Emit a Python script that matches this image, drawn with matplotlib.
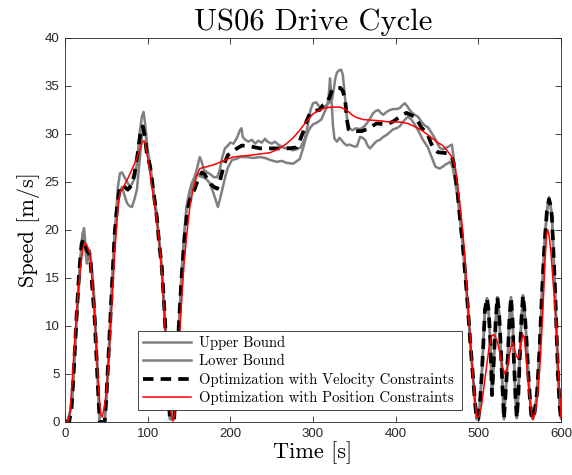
import matplotlib
matplotlib.use("Agg")
import matplotlib.pyplot as plt
from matplotlib.font_manager import FontProperties

# ---------------- data ----------------
t_upper = [0, 4, 6, 8, 10, 12, 15, 18, 21, 23, 24.5, 26.5, 28, 30, 32, 35, 37, 39, 41, 42, 48, 50, 53, 57, 60, 62, 64,
           66.5, 69, 72.6, 76, 78.6, 81, 84.7, 87, 90.7, 93, 95, 97, 100, 103, 107, 111, 114, 117, 119, 121, 123, 125,
           127, 132, 133.5, 135.5, 138, 141, 144, 147, 150, 153, 157, 160, 163, 165, 168, 172, 176, 180, 184, 187, 190,
           193.5, 197, 200, 204, 208, 211.7, 213.5, 215, 218, 222, 226, 230, 234, 238, 242, 245, 250, 254, 258, 262,
           266, 270, 275, 280, 285, 290, 294, 297, 300, 304, 308, 312, 316, 320, 323, 325, 327, 329, 331, 334, 336,
           338, 340, 342, 345, 348, 352, 357, 362, 365, 369, 373, 376, 379, 382, 385, 389, 393, 397, 401, 405, 408,
           411, 414, 417, 420, 423, 427, 431, 435, 439, 442, 445, 449, 453, 457, 460, 464, 468, 470, 472, 475, 478,
           481, 484.5, 487.5, 490.5, 493.5, 496, 498, 500, 502, 504, 506, 508, 510.5, 512.5, 514.5, 516.5, 518.5, 521,
           523, 525, 527, 529, 531, 533, 535.5, 537.5, 539.5, 541.5, 543, 545, 546.5, 548.5, 550, 552, 554, 556,
           558.5, 560.5, 562.5, 564, 566, 568, 571, 574, 577, 580, 583, 585.5, 587.5, 589, 591, 593, 595, 596.5,
           598.5, 600]
v_upper = [0, 0.3, 1.0, 1.8, 4, 7.5, 12, 16.2, 19.5, 20.2, 18.8, 16.8, 17.3, 17.9, 16.5, 13.4, 9.5, 5.7, 1.5, 0, 0, 2.5,
           7.5, 14.5, 19.5, 22, 24.5, 25.9, 26, 25.4, 24.9, 24.5, 24.8, 25.5, 27, 30.4, 31.8, 32.3, 31, 28.3, 26.8,
           24.2, 21.6, 18.8, 16.3, 13.5, 10.5, 6.5, 3, 0.3, 0.3, 3, 6.5, 10.5, 15.5, 19.5, 22.5, 23.8, 24.8, 25.6, 26.5,
           27.6, 27.2, 26.3, 26, 25.8, 25.5, 25.5, 26.2, 27.5, 28.5, 28.8, 29.1, 29.0, 29.6, 30.4, 30.6, 29.7, 29.4,
           29.2, 29.4, 29.0, 29.3, 29.1, 29.5, 29.2, 29.0, 29.2, 28.9, 28.7, 28.5, 28.6, 28.3, 28.4, 28.6, 29.5, 31.0,
           32.5, 33.2, 33.3, 32.8, 32.7, 33.0, 33.3, 33.6, 34.6, 35.8, 36.4, 36.6, 36.7, 36.2, 34.5, 32.5, 31.0, 30.5,
           30.4, 30.6, 30.5, 30.8, 31.1, 31.6, 32.2, 32.4, 32.5, 32.2, 32.0, 32.3, 32.5, 32.6, 32.6, 32.7, 33.0, 33.2,
           32.9, 32.5, 32.2, 32.0, 31.8, 31.3, 30.9, 30.7, 30.3, 29.9, 29.3, 28.6, 28.4, 28.5, 28.7, 28.9, 27.6, 26.0,
           24.2, 21.3, 18.6, 15, 11.7, 8, 4.7, 2, 0.3, 0.3, 2, 4.7, 8, 11.7, 12.9, 11.5, 8.5, 2.8, 6, 10.5, 13, 11.5, 8,
           4, 0.3, 3, 6.5, 10.5, 13, 10.5, 6.5, 2.5, 0.4, 3, 6.5, 10.5, 13.2, 11.5, 8.2, 5, 2.3, 0.8, 0.3, 1, 3, 7.5,
           13.4, 18.5, 22, 23.4, 22.5, 21.4, 17.5, 13.4, 8.5, 4.7, 1.5, 0.4]

t_lower = [0, 4, 6, 8, 10, 12, 15, 18, 21, 23, 24.5, 26.5, 28, 30, 32, 35, 37, 39, 41, 42, 48, 50, 53, 57, 60, 63, 66,
           69, 72, 75, 78, 81, 84, 87, 90, 93, 95, 97, 100, 103, 107, 111, 114, 117, 119, 121, 123, 125, 127, 132,
           133.5, 135.5, 138, 141, 144, 147, 150, 153, 156, 159, 163, 167, 171, 175, 179, 182, 185, 188, 191, 194,
           197, 202, 207, 212, 220, 228, 236, 242, 248, 256, 262, 268, 276, 284, 288, 291, 294, 297, 300, 305, 310,
           314, 317, 319, 320.6, 322, 324, 326, 329, 332, 335, 338, 341, 344, 347, 350, 353, 357, 360, 363, 366, 369,
           372, 375, 378, 381, 385, 389, 393, 397, 401, 405, 410, 415, 419, 423, 427, 433, 439, 444, 448, 453, 457,
           460, 466, 469, 472, 475, 478, 481, 484.5, 487.5, 490.5, 493.5, 496, 498, 500, 502, 504, 506, 508, 510.5,
           512.5, 514.5, 516.5, 518.5, 521, 523, 525, 527, 529, 531, 533, 535.5, 537.5, 539.5, 541.5, 543, 545, 546.5,
           548.5, 550, 552, 554, 556, 558.5, 560.5, 562.5, 564, 566, 568, 571, 574, 577, 580, 583, 585.5, 587.5, 589,
           591, 593, 595, 596.5, 598.5, 600]
v_lower = [0, 0.3, 1.0, 1.8, 4, 7.5, 12, 16.2, 19.3, 19.6, 18.0, 16.5, 17.0, 17.6, 16.3, 13.2, 9.5, 5.7, 1.5, 0, 0,
           2.5, 7.5, 14.5, 19.3, 22.0, 23.8, 24.5, 23.6, 22.8, 22.5, 22.4, 23.2, 24.2, 27.0, 29.7, 30.8, 30.3, 28.0,
           26.4, 24.0, 21.4, 18.6, 16.1, 13.5, 10.5, 6.5, 3, 0.3, 0.3, 3, 6.5, 10.5, 15.3, 19.2, 22.0, 23.2, 24.2, 25.0,
           25.9, 25.6, 25.5, 25.3, 24.9, 24.0, 23.2, 22.4, 23.4, 24.5, 25.6, 26.5, 27.3, 27.4, 27.6, 27.6, 27.5, 27.6,
           27.5, 27.3, 27.1, 27.2, 27.0, 26.9, 27.4, 28.5, 29.5, 30.2, 30.7, 31.0, 31.2, 31.5, 32.3, 32.8, 34.0, 35.8,
           34.2, 31.0, 29.5, 29.2, 29.6, 29.3, 29.0, 28.8, 28.9, 28.8, 28.7, 28.7, 29.7, 29.6, 29.4, 28.8, 28.5, 28.8,
           29.1, 29.3, 29.4, 29.7, 29.9, 30.2, 30.5, 30.6, 30.8, 31.4, 31.8, 31.5, 31.0, 30.4, 29.4, 28.6, 27.5, 26.6,
           26.4, 26.6, 26.8, 27.1, 26.5, 25.0, 23.3, 21.0, 18.6, 15, 11.7, 8, 4.7, 2, 0.3, 0.3, 2, 4.7, 8, 11.7, 12.9,
           11.5, 8.5, 2.8, 6, 10.5, 13, 11.5, 8, 4, 0.3, 3, 6.5, 10.5, 13, 10.5, 6.5, 2.5, 0.4, 3, 6.5, 10.5, 13.2,
           11.5, 8.2, 5, 2.3, 0.8, 0.3, 1, 3, 7.5, 13.4, 18.5, 22, 23.4, 22.5, 21.4, 17.5, 13.4, 8.5, 4.7, 1.5, 0.4]

t_vel = [0, 5, 8, 11, 14, 17, 20, 22, 24, 27, 29, 31, 33, 36, 39, 41, 42, 48, 50, 53, 57, 60, 63, 66, 69, 72, 76, 80,
         84, 88, 91, 94, 96, 99, 103, 107, 111, 114, 117, 119, 121, 123, 125, 127, 132, 133.5, 135.5, 138, 141, 145,
         148, 151, 154, 157, 161, 165.7, 169, 172, 176, 180, 184, 187, 190, 194, 197, 202, 208, 214, 225, 236, 256,
         270, 280, 284, 288, 292, 296, 300, 308, 312, 316, 320, 323, 328, 333, 336, 339, 341, 343, 347, 359, 365, 369,
         377, 389, 397, 405, 413, 418, 423, 427, 431, 435, 439, 442, 445, 451, 462, 468, 470, 472, 475, 478, 481,
         484.5, 487.5, 490.5, 493.5, 496, 498, 500, 502, 504, 506, 508, 510.5, 512.5, 514.5, 516.5, 518.5, 521, 523,
         525, 527, 529, 531, 533, 535.5, 537.5, 539.5, 541.5, 543, 545, 546.5, 548.5, 550, 552, 554, 556, 558.5,
         560.5, 562.5, 564, 566, 568, 571, 574, 577, 580, 583, 585.5, 587.5, 589, 591, 593, 595, 596.5, 598.5, 600]
v_vel = [0, 0, 1.5, 6, 11, 15.5, 18.5, 19, 18.5, 17.8, 17.6, 16.5, 14, 10.6, 5, 1.6, 0, 0, 2.5, 7.5, 14.5, 19.5, 22.5,
         24.3, 24.7, 24.5, 24.2, 24.6, 25.8, 28, 30, 30.8, 30, 28, 26.6, 24, 21.4, 18.5, 16.2, 13.5, 10.5, 6.5, 3,
         0.3, 0.3, 3, 6.5, 10.5, 15, 19.5, 22, 23.1, 23.8, 24.3, 25.3, 26, 25.8, 25.3, 24.8, 24.5, 24.3, 25, 26,
         27.2, 27.8, 28.1, 28.5, 28.8, 28.7, 28.5, 28.5, 28.5, 28.6, 29.3, 30.2, 31.3, 32.1, 32.4, 32.5, 33, 33.2,
         33.8, 34.6, 34.8, 34.8, 34.5, 33.5, 31.5, 30.5, 30.3, 30.3, 30.5, 30.7, 31.1, 31, 31.3, 31.8, 32.2, 32, 31.8,
         31.3, 30.7, 30.3, 29.9, 29.2, 28.6, 28.1, 28, 27.6, 27, 25.9, 23.8, 21, 18.6, 15, 11.7, 8, 4.7, 2, 0.3, 0.3,
         2, 4.7, 8, 11.7, 12.9, 11.5, 8.5, 2.8, 6, 10.5, 13, 11.5, 8, 4, 0.3, 3, 6.5, 10.5, 13, 10.5, 6.5, 2.5, 0.4,
         3, 6.5, 10.5, 13.2, 11.5, 8.2, 5, 2.3, 0.8, 0.3, 1, 3, 7.5, 13.4, 18.5, 22, 23.2, 22.5, 21.4, 17.5, 13.4, 8.5,
         4.7, 1.5, 0.4]

t_pos = [0, 4, 6, 8.5, 11, 14, 17, 20, 22, 24, 26, 28, 30, 32, 34, 36, 38, 40, 42, 43.5, 45, 47, 49, 51, 54, 57, 60,
         63, 65, 67, 69, 75, 81, 87, 91, 93, 95.5, 97, 99, 102, 105, 108, 111, 114, 117, 119, 121, 123, 125, 127,
         129, 130.5, 132, 134, 136, 138, 141, 144, 147.5, 151, 154, 157, 160, 163, 180, 203, 225, 248, 260, 268, 276,
         284, 292, 300, 308, 316, 324, 333, 338, 342, 347, 353, 361, 377, 393, 405, 415, 427, 433, 439, 445, 451,
         457, 462, 468, 472, 475, 478, 481, 484, 488, 492, 495, 498, 501, 504, 507, 510, 513, 516, 518, 520, 523,
         526, 529, 532, 535, 538, 541, 543, 545.5, 548, 550, 552, 554, 555.5, 557, 559, 561, 563, 565, 566, 569, 572,
         575, 578, 580.5, 582.5, 584, 585.5, 588, 590.5, 593, 595.5, 598, 600]
v_pos = [0, 0.1, 1, 4, 7.5, 11.5, 14.5, 17, 18.2, 18.6, 18.5, 18.1, 17.5, 15.5, 13.5, 11, 7.5, 4.5, 2, 0.8, 0.5, 1.3,
         2.5, 4, 8, 12.7, 17.5, 21, 23.1, 24, 24.2, 25.2, 26.3, 27.5, 28.5, 29.1, 29.3, 29, 28, 26.5, 24.5, 22.8, 21,
         18.8, 15.5, 12.8, 9.8, 6.8, 4, 1.8, 0.5, 0.1, 0.6, 2.5, 5, 8, 12.5, 16.5, 19.7, 22.4, 23.8, 24.9, 25.8, 26.4,
         26.8, 27.6, 27.8, 28.05, 28.5, 29, 29.6, 30.4, 31.3, 32.1, 32.5, 32.75, 32.8, 32.8, 32.6, 32.4, 32, 31.7,
         31.5, 31.4, 31.25, 31.25, 31.1, 30.6, 30.3, 29.9, 29.5, 29.1, 28.8, 28.3, 27.6, 26.6, 24.5, 22.5, 20, 16.9,
         11.5, 6.5, 3, 0.5, 0.6, 1.8, 3.8, 5.8, 7.8, 8.9, 9.1, 9.0, 8.4, 7.2, 5.8, 5.0, 5.6, 7.2, 8.3, 8.0, 7.0, 6.6,
         7.2, 8.5, 9.1, 8.8, 7.5, 5.5, 3.5, 1.8, 0.6, 0.3, 1, 3, 6.5, 11.5, 16.5, 19.5, 20, 19.5, 17.5, 14.5, 11.7, 8,
         3.5, 0.5]

x_ticks = [0, 100, 200, 300, 400, 500, 600]
y_ticks = [0, 5, 10, 15, 20, 25, 30, 35, 40]
labels = ["Upper Bound", "Lower Bound",
          "Optimization with Velocity Constraints",
          "Optimization with Position Constraints"]
title = "US06 Drive Cycle"
xlabel = "Time [s]"
ylabel = "Speed [m/s]"

# ---------------- figure ----------------
tickfont = FontProperties(family="Liberation Sans", size=9.5)
dark = "#262626"

fig = plt.figure(figsize=(5.72, 4.75), dpi=100)
ax = fig.add_axes([65 / 572, 1 - 422 / 475, (561 - 65) / 572, (422 - 38) / 475])

gray = "#808080"
ax.plot(t_upper, v_upper, color=gray, lw=1.8, label=labels[0])
ax.plot(t_lower, v_lower, color=gray, lw=1.8, label=labels[1])
ax.plot(t_vel, v_vel, color="black", lw=2.7, dashes=(2.8, 1.9), label=labels[2])
ax.plot(t_pos, v_pos, color="red", lw=1.1, label=labels[3])

ax.set_xlim(0, 600)
ax.set_ylim(0, 40)
ax.set_xticks(x_ticks)
ax.set_yticks(y_ticks)
ax.tick_params(direction="in", length=4, width=0.6, top=True, right=True, colors=dark, pad=4)
for lab in ax.get_xticklabels() + ax.get_yticklabels():
    lab.set_fontproperties(tickfont)
    lab.set_color(dark)
for sp in ax.spines.values():
    sp.set_color(dark)
    sp.set_linewidth(0.6)

ax.set_title(title, fontproperties=FontProperties(family="cmr10", size=22), color="black", pad=6)
ax.set_xlabel(xlabel, fontproperties=FontProperties(family="cmr10", size=16), labelpad=1)
ax.set_ylabel(ylabel, fontproperties=FontProperties(family="cmr10", size=16), labelpad=3)

leg = ax.legend(prop=FontProperties(family="cmr10", size=10.5), loc="lower left",
                bbox_to_anchor=(0.147, 0.031, 0.653, 0.209), mode="expand",
                handlelength=3.3, handletextpad=0.55, labelspacing=0.3, borderpad=0.35,
                fancybox=False, framealpha=1, edgecolor=dark, borderaxespad=0)
leg.get_frame().set_linewidth(0.6)

fig.savefig("out.png", dpi=100)
